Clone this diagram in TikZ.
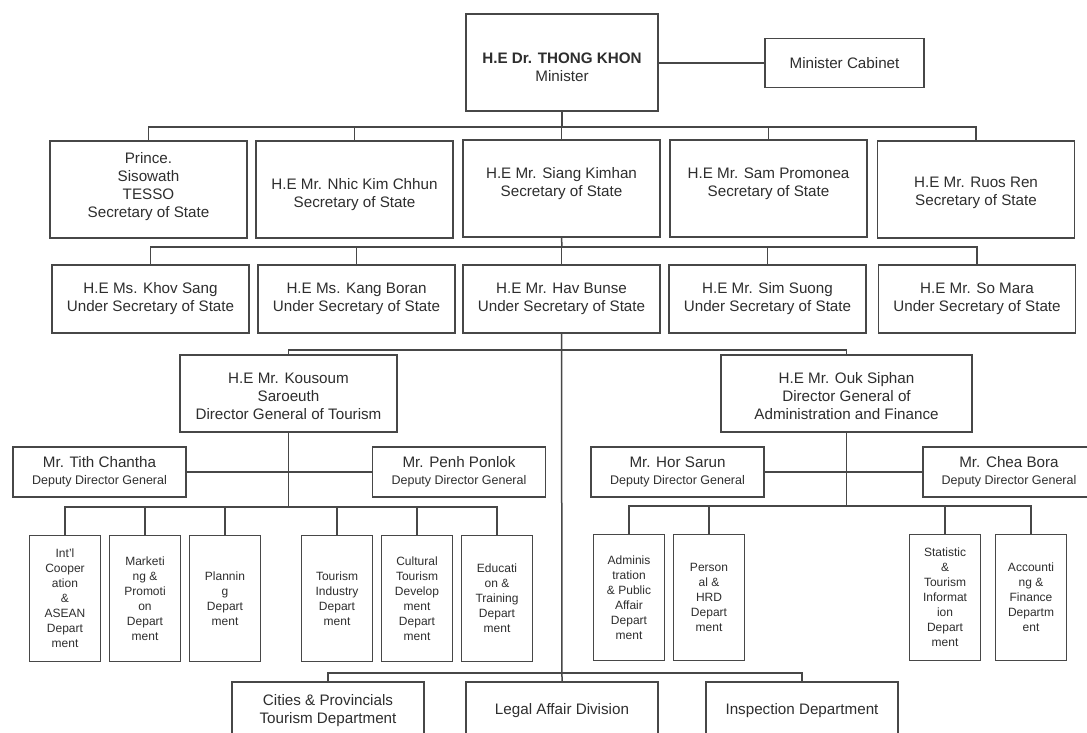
\documentclass[tikz,border=0pt]{standalone}
\usepackage{fontspec}
\setmainfont{Liberation Sans}
\newcommand\ddgfont{\fontsize{12.5}{15}\selectfont}
\begin{document}
\begin{tikzpicture}[x=1pt,y=-1pt,
  ln/.style={draw=black!72, line width=1.5pt},
  lb/.style={align=center, inner sep=0pt, text=black!82, font=\fontsize{15.2}{18}\selectfont},
  box/.style={draw=black!72, line width=1.5pt, rectangle, inner sep=0pt, align=center,
    text=black!82, font=\fontsize{15.2}{18}\selectfont},
  secbox/.style={box, minimum width=197pt, minimum height=97pt},
  ubox/.style={box, minimum width=197pt, minimum height=68pt},
  dgbox/.style={box, minimum height=77pt},
  depbox/.style={box, minimum width=173pt, minimum height=50pt},
  dept/.style={box, font=\fontsize{12}{15}\selectfont, minimum width=71pt, minimum height=126pt},
  botbox/.style={box, minimum width=192pt, minimum height=58pt}
]
\useasboundingbox (0,0) rectangle (1087,733);
\clip (0,0) rectangle (1087,733);
\fill[white] (0,0) rectangle (1087,733);

% Minister
\node[box, minimum width=192pt, minimum height=97pt,
  label={[lb, name=minl, yshift=-5pt]center:{{\bfseries H.E Dr. THONG KHON}\\Minister}}]
  (min) at (562,62.5) {};
\node[box, minimum width=159pt, minimum height=49pt] (cab) at (844.5,63)
  {Minister Cabinet};
\draw[ln] (min.east |- cab.west) -- (cab.west);

% Secretaries of State
\node[secbox, label={[lb, name=s1l, yshift=3pt]center:{Prince.\\Sisowath\\TESSO\\Secretary of State}}]
  (s1) at (148.5,189.5) {};
\node[secbox, label={[lb, name=s2l, yshift=-5pt]center:{H.E Mr. Nhic Kim Chhun\\Secretary of State}}]
  (s2) at (354.5,189.5) {};
\node[secbox, label={[lb, name=s3l, yshift=4.5pt]center:{H.E Mr. Siang Kimhan\\Secretary of State}}]
  (s3) at (561.5,188.5) {};
\node[secbox, label={[lb, name=s4l, yshift=4.5pt]center:{H.E Mr. Sam Promonea\\Secretary of State}}]
  (s4) at (768.5,188.5) {};
\node[secbox, label={[lb, name=s5l, yshift=-3.5pt]center:{H.E Mr. Ruos Ren\\Secretary of State}}]
  (s5) at (976,189.5) {};
\coordinate (b1) at (562,127);
\draw[ln] (min.south) -- (b1);
\draw[ln] (s1.north) |- (b1) -| (s5.north);
\draw[ln] (s2.north) -- (s2.north |- b1);
\draw[ln] (s3.north) -- (s3.north |- b1);
\draw[ln] (s4.north) -- (s4.north |- b1);

% Under Secretaries of State
\node[ubox] (u1) at (150.5,299) {H.E Ms. Khov Sang\\Under Secretary of State};
\node[ubox] (u2) at (356.5,299) {H.E Ms. Kang Boran\\Under Secretary of State};
\node[ubox] (u3) at (561.5,299) {H.E Mr. Hav Bunse\\Under Secretary of State};
\node[ubox] (u4) at (767.5,299) {H.E Mr. Sim Suong\\Under Secretary of State};
\node[ubox] (u5) at (977,299) {H.E Mr. So Mara\\Under Secretary of State};
\coordinate (b2) at (562,247);
\draw[ln] (s3.south) -- (b2);
\draw[ln] (u1.north) |- (b2) -| (u5.north);
\draw[ln] (u2.north) -- (u2.north |- b2);
\draw[ln] (u3.north) -- (u3.north |- b2);
\draw[ln] (u4.north) -- (u4.north |- b2);

% Directors General
\node[dgbox, minimum width=217pt,
  label={[lb, name=koul, yshift=-3pt]center:{H.E Mr. Kousoum\\Saroeuth\\Director General of Tourism}}]
  (kou) at (288.5,393.5) {};
\node[dgbox, minimum width=251pt,
  label={[lb, name=oukl, yshift=-3pt]center:{H.E Mr. Ouk Siphan\\Director General of\\Administration and Finance}}]
  (ouk) at (846.5,393.5) {};
\coordinate (b3) at (562,350);
\draw[ln] (kou.north) |- (b3) -| (ouk.north);

% Deputy Directors General
\node[depbox] (tith) at (99.5,472) {Mr. Tith Chantha\\[-1pt]{\ddgfont Deputy Director General}};
\node[depbox] (penh) at (459,472) {Mr. Penh Ponlok\\[-1pt]{\ddgfont Deputy Director General}};
\node[depbox] (hor) at (677.5,472) {Mr. Hor Sarun\\[-1pt]{\ddgfont Deputy Director General}};
\node[depbox, minimum width=172pt] (chea) at (1009,472) {Mr. Chea Bora\\[-1pt]{\ddgfont Deputy Director General}};
\draw[ln] (tith.east) -- (penh.west);
\draw[ln] (hor.east) -- (chea.west);

% Tourism departments
\node[dept] (d1) at (65,598.5) {Int'l\\Cooper\\ation\\\&\\ASEAN\\Depart\\ment};
\node[dept] (d2) at (145,598.5) {Marketi\\ng \&\\Promoti\\on\\Depart\\ment};
\node[dept] (d3) at (225,598.5) {Plannin\\g\\Depart\\ment};
\node[dept] (d4) at (337,598.5) {Tourism\\Industry\\Depart\\ment};
\node[dept] (d5) at (417,598.5) {Cultural\\Tourism\\Develop\\ment\\Depart\\ment};
\node[dept] (d6) at (497,598.5) {Educati\\on \&\\Training\\Depart\\ment};
\coordinate (b4) at (288.5,507);
\draw[ln] (kou.south) -- (b4);
\draw[ln] (d1.north) |- (b4) -| (d6.north);
\draw[ln] (d2.north) -- (d2.north |- b4);
\draw[ln] (d3.north) -- (d3.north |- b4);
\draw[ln] (d4.north) -- (d4.north |- b4);
\draw[ln] (d5.north) -- (d5.north |- b4);

% Administration and Finance departments
\node[dept] (d7) at (629,597.5) {Adminis\\tration\\\& Public\\Affair\\Depart\\ment};
\node[dept] (d8) at (709,597.5) {Person\\al \&\\HRD\\Depart\\ment};
\node[dept] (d9) at (945,597.5) {Statistic\\\&\\Tourism\\Informat\\ion\\Depart\\ment};
\node[dept] (d10) at (1031,597.5) {Accounti\\ng \&\\Finance\\Departm\\ent};
\coordinate (b5) at (846.5,506);
\draw[ln] (ouk.south) -- (b5);
\draw[ln] (d7.north) |- (b5) -| (d10.north);
\draw[ln] (d8.north) -- (d8.north |- b5);
\draw[ln] (d9.north) -- (d9.north |- b5);

% Bottom units
\node[botbox] (cit) at (328,711) {Cities \& Provincials\\Tourism Department};
\node[botbox] (leg) at (562,711) {Legal Affair Division};
\node[botbox] (ins) at (802,711) {Inspection Department};
\coordinate (b6) at (562,673);
\draw[ln] (u3.south) -- (leg.north);
\draw[ln] (cit.north) |- (b6) -| (ins.north);
\end{tikzpicture}
\end{document}
